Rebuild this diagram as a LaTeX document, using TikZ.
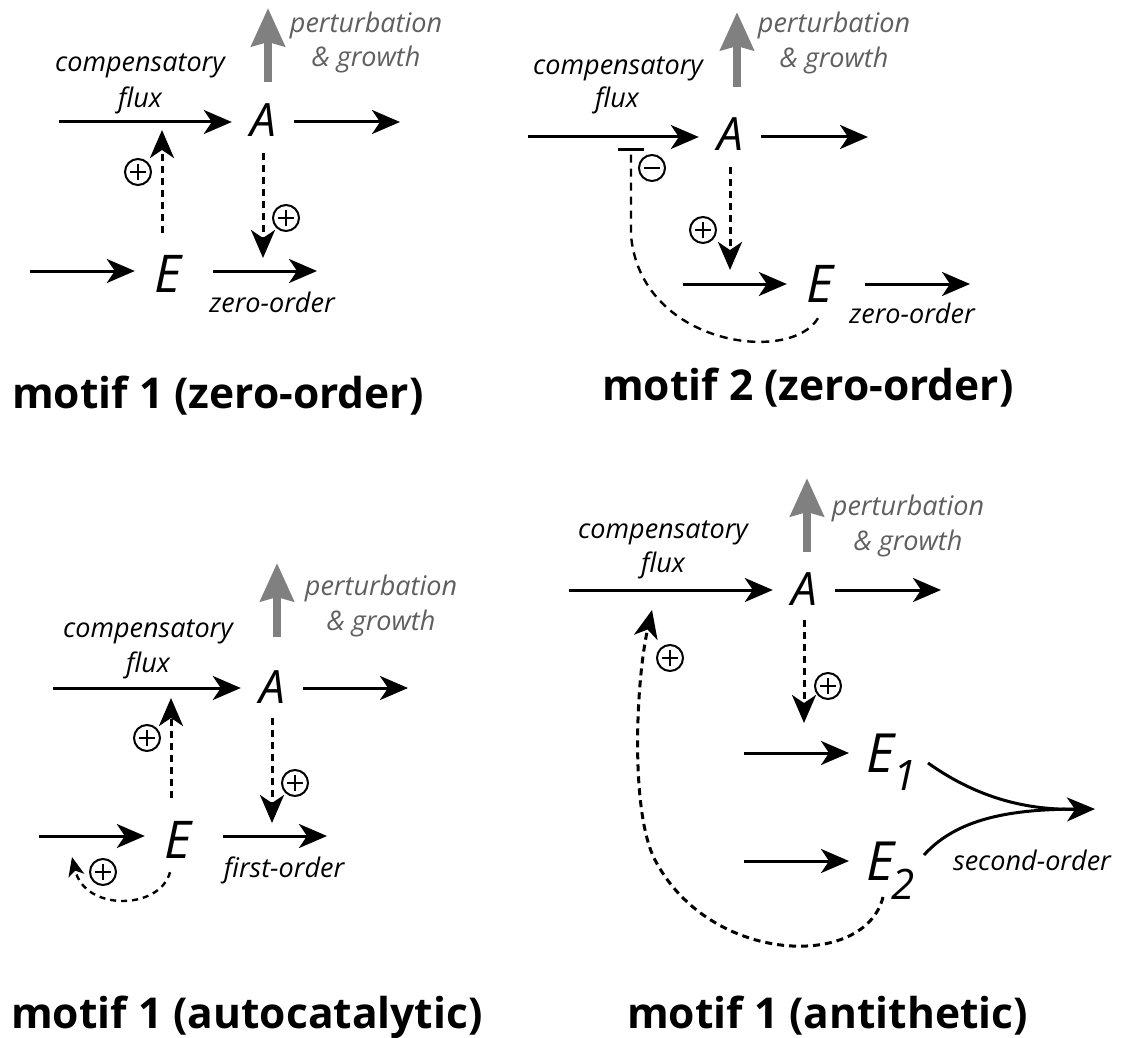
\documentclass[tikz,border=0pt]{standalone}
\usepackage{fontspec}
\setmainfont{Open Sans}
\usetikzlibrary{arrows.meta}

\definecolor{arrgray}{RGB}{128,128,128}
\definecolor{txtgray}{RGB}{95,95,95}

\tikzset{
  lbl/.style={inner sep=0pt, font=\fontsize{27}{32}\selectfont\itshape},
  glbl/.style={lbl, text=txtgray},
  spA/.style={inner sep=0pt, minimum width=62pt, font=\fontsize{46}{50}\selectfont\itshape},
  spE/.style={inner sep=0pt, minimum width=66pt, font=\fontsize{52}{56}\selectfont\itshape},
  spEi/.style={inner sep=0pt, font=\fontsize{54}{58}\selectfont\itshape},
  ttl/.style={inner sep=0pt, anchor=base west, font=\fontsize{42.5}{48}\selectfont\bfseries},
  tip/.style={-{Stealth[length=28pt,width=24pt,inset=8pt]}},
  flux/.style={line width=3pt, tip},
  reg/.style={line width=3pt, dash pattern=on 7pt off 5pt, tip},
  regs/.style={line width=2.4pt, dash pattern=on 6pt off 5pt, -{Stealth[length=19pt,width=16pt,inset=5pt]}},
  inh/.style={line width=2.4pt, dash pattern=on 8pt off 6pt, -{Bar[width=26pt,line width=2.8pt]}},
  pert/.style={line width=8.5pt, draw=arrgray, -{Stealth[length=38pt,width=33pt,inset=4pt]}},
  sgn/.style={circle, draw, line width=2pt, minimum size=26pt, inner sep=0pt},
  plus/.style={sgn, path picture={\draw[line width=2pt]
      (path picture bounding box.center) ++(-8pt,0) -- ++(16pt,0)
      (path picture bounding box.center) ++(0,-8pt) -- ++(0,16pt);}},
  minus/.style={sgn, path picture={\draw[line width=2pt]
      (path picture bounding box.center) ++(-8pt,0) -- ++(16pt,0);}}
}

\begin{document}
\begin{tikzpicture}[x=1pt,y=-1pt]
\useasboundingbox (0,0) rectangle (1125,1038);
\fill[white] (0,0) rectangle (1125,1038);

% ---------------- motif 1 (zero-order) ----------------
\node[spA, anchor=base] (A1) at (263,137) {A};
\node[spE, anchor=base] (E1) at (168,292) {E};
\coordinate (c1in)  at (59,122);
\coordinate (c1out) at (400,122);
\coordinate (c1u)   at (162,122);
\coordinate (c1Ein) at (30,271);
\coordinate (c1Eout) at (317,271);
\coordinate (c1d)   at (263,271);
\coordinate (g1a) at (268,82);
\coordinate (g1b) at (268,8);
\draw[flux] (c1in) -- (c1in -| A1.west);
\draw[flux] (A1.east |- c1out) -- (c1out);
\draw[pert] (g1a) -- (g1b);
\node[glbl, anchor=base] (p1a) at (366,33) {perturbation};
\node[glbl, anchor=base] (p1b) at (366,67) {\& growth};
\node[lbl, anchor=base] (k1a) at (140,72) {compensatory};
\node[lbl, anchor=base] (k1b) at (140,108) {flux};
\draw[flux] (c1Ein) -- (c1Ein -| E1.west);
\draw[flux, shorten <=12pt] (E1.east |- c1Eout) -- (c1Eout);
\draw[reg, shorten <=22pt, shorten >=8pt] (c1u |- E1.north) -- (c1u);
\draw[reg, shorten <=16pt, shorten >=13pt] (A1.south) -- (c1d);
\node[plus] (s1a) at (138,172) {};
\node[plus] (s1b) at (286,218) {};
\node[lbl, anchor=base] (o1) at (272,312) {zero-order};
\node[ttl] (t1) at (12,408) {motif 1 (zero-order)};

% ---------------- motif 2 (zero-order) ----------------
\node[spA, anchor=base] (A2) at (730,150) {A};
\node[spE, anchor=base] (E2) at (820,302) {E};
\coordinate (c2in)  at (528,137);
\coordinate (c2out) at (868,137);
\coordinate (c2Ein) at (683,284);
\coordinate (c2Eout) at (970,284);
\coordinate (c2d)   at (730,284);
\coordinate (c2bar) at (631,148);
\coordinate (g2a) at (737,87);
\coordinate (g2b) at (737,12);
\draw[flux] (c2in) -- (c2in -| A2.west);
\draw[flux] (A2.east |- c2out) -- (c2out);
\draw[pert] (g2a) -- (g2b);
\node[glbl, anchor=base] (p2a) at (834,33) {perturbation};
\node[glbl, anchor=base] (p2b) at (834,68) {\& growth};
\node[lbl, anchor=base] (k2a) at (618,75) {compensatory};
\node[lbl, anchor=base] (k2b) at (617,108) {flux};
\draw[flux] (c2Ein) -- (c2Ein -| E2.west);
\draw[flux, shorten <=12pt] (E2.east |- c2Eout) -- (c2Eout);
\draw[reg, shorten <=17pt, shorten >=14pt] (A2.south) -- (c2d);
\draw[inh] (E2.south) ++(-2,16) .. controls (790,365) and (640,345) .. (631,235) -- (c2bar);
\node[minus] (s2a) at (652,168) {};
\node[plus] (s2b) at (703,230) {};
\node[lbl, anchor=base] (o2) at (912,323) {zero-order};
\node[ttl] (t2) at (602,400) {motif 2 (zero-order)};

% ---------------- motif 1 (autocatalytic) ----------------
\node[spA, anchor=base] (A3) at (272,703) {A};
\node[spE, anchor=base] (E3) at (178,858) {E};
\coordinate (c3in)  at (53,688);
\coordinate (c3out) at (408,688);
\coordinate (c3u)   at (171,688);
\coordinate (c3Ein) at (39,836);
\coordinate (c3Eout) at (327,836);
\coordinate (c3d)   at (272,836);
\coordinate (c3a)   at (72,857);
\coordinate (g3a) at (277,637);
\coordinate (g3b) at (277,563);
\draw[flux] (c3in) -- (c3in -| A3.west);
\draw[flux] (A3.east |- c3out) -- (c3out);
\draw[pert] (g3a) -- (g3b);
\node[glbl, anchor=base] (p3a) at (381,595) {perturbation};
\node[glbl, anchor=base] (p3b) at (381,630) {\& growth};
\node[lbl, anchor=base] (k3a) at (148,637) {compensatory};
\node[lbl, anchor=base] (k3b) at (148,672) {flux};
\draw[flux] (c3Ein) -- (c3Ein -| E3.west);
\draw[flux, shorten <=12pt] (E3.east |- c3Eout) -- (c3Eout);
\draw[reg, shorten <=23pt, shorten >=10pt] (c3u |- E3.north) -- (c3u);
\draw[reg, shorten <=15pt, shorten >=13pt] (A3.south) -- (c3d);
\draw[regs] (E3.south) ++(-8,14) .. controls (160,910) and (85,912) .. (c3a);
\node[plus] (s3a) at (147,738) {};
\node[plus] (s3b) at (295,783) {};
\node[plus] (s3c) at (103,872) {};
\node[lbl, anchor=base] (o3) at (284,877) {first-order};
\node[ttl] (t3) at (11,1028) {motif 1 (autocatalytic)};

% ---------------- motif 1 (antithetic) ----------------
\node[spA, anchor=base] (A4) at (804,605) {A};
\node[spEi, anchor=base west] (E41) at (866,772) {E\kern-1pt\raisebox{-18pt}{\fontsize{42}{42}\selectfont 1}};
\node[spEi, anchor=base west] (E42) at (866,880) {E\kern-3pt\raisebox{-19pt}{\fontsize{42}{42}\selectfont 2}};
\coordinate (c4in)  at (569,590);
\coordinate (c4out) at (941,590);
\coordinate (c4e1)  at (744,753);
\coordinate (c4e2)  at (744,861);
\coordinate (c4d)   at (804,753);
\coordinate (c4o1)  at (928,763);
\coordinate (c4o2)  at (924,855);
\coordinate (c4m)   at (1082,809);
\coordinate (c4tip) at (1095,809);
\coordinate (c4s)   at (883,897);
\coordinate (c4a)   at (652,610);
\coordinate (g4a) at (807,552);
\coordinate (g4b) at (807,478);
\draw[flux] (c4in) -- (c4in -| A4.west);
\draw[flux] (A4.east |- c4out) -- (c4out);
\draw[pert] (g4a) -- (g4b);
\node[glbl, anchor=base] (p4a) at (908,515) {perturbation};
\node[glbl, anchor=base] (p4b) at (908,550) {\& growth};
\node[lbl, anchor=base] (k4a) at (663,538) {compensatory};
\node[lbl, anchor=base] (k4b) at (663,572) {flux};
\draw[flux, shorten >=17pt] (c4e1) -- (c4e1 -| E41.west);
\draw[flux, shorten >=17pt] (c4e2) -- (c4e2 -| E42.west);
\draw[reg, shorten <=15pt, shorten >=30pt] (A4.south) -- (c4d);
\draw[flux] (c4o1) .. controls (980,800) and (1030,810) .. (c4tip);
\draw[line width=3pt] (c4o2) .. controls (960,815) and (1020,809) .. (c4m);
\draw[reg] (c4s) .. controls (865,970) and (710,965) .. (655,860)
                 .. controls (630,812) and (636,680) .. (c4a);
\node[plus] (s4a) at (828,686) {};
\node[plus] (s4b) at (670,658) {};
\node[lbl, anchor=base] (o4) at (1032,870) {second-order};
\node[ttl] (t4) at (627,1028) {motif 1 (antithetic)};
\end{tikzpicture}
\end{document}
